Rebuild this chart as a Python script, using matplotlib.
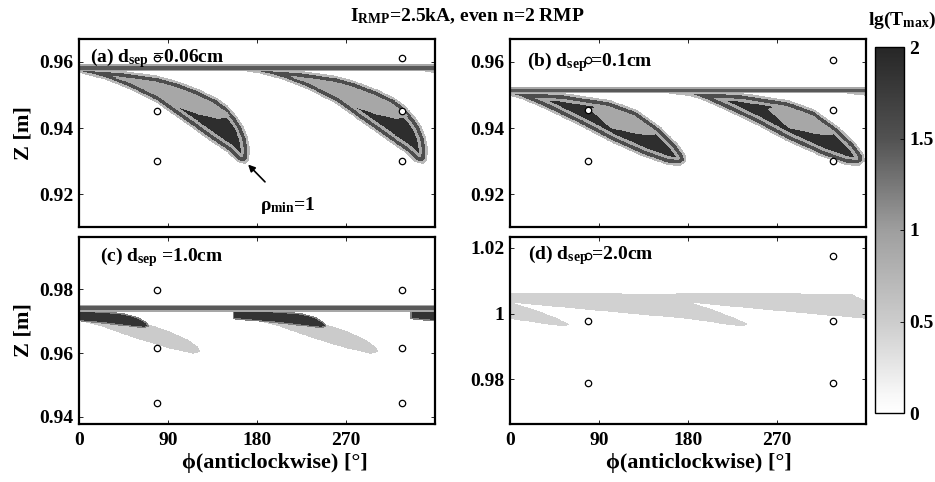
import numpy as np
import matplotlib
matplotlib.use("Agg")
import matplotlib.pyplot as plt
from matplotlib.path import Path
from matplotlib.colors import LinearSegmentedColormap

plt.rcParams['font.family'] = ['Liberation Serif', 'DejaVu Serif']
plt.rcParams['font.weight'] = 'bold'
plt.rcParams['mathtext.fontset'] = 'custom'
plt.rcParams['mathtext.rm'] = 'Liberation Serif:bold'
plt.rcParams['mathtext.it'] = 'Liberation Serif:bold'
plt.rcParams['mathtext.bf'] = 'Liberation Serif:bold'

# ---------------- data ----------------
# lg(Tmax) inside a footprint lobe, by depth from the lobe edge [px]
lobe_depth = [0, 2.5, 6, 9]
lobe_lgT = [0.7, 1.55, 0.9, 1.9]
eye_lgT = 0.9
band_depth = [0, 1.5]
band_lgT = [0.9, 1.45]
lobe_shift = [0, 180, 360]          # n=2 -> lobes repeat every 180 deg

# (a) dsep = 0.06 cm
a_lobe_phi = [-20, 0, 40, 79, 100, 122, 140, 150, 160, 166, 171, 173, 172,
              168, 160, 150, 135, 122, 100, 79, 50, 25, 0, -20]
a_lobe_z = [0.9583, 0.9581, 0.9574, 0.9558, 0.9541, 0.9516, 0.9490, 0.9468, 0.9434, 0.9408, 0.9372, 0.9335, 0.9303,
            0.9291, 0.9297, 0.9326, 0.9356, 0.9384, 0.9430, 0.9475, 0.9518, 0.9547, 0.9566, 0.9575]
a_eye_phi = [35, 50, 79, 100, 122, 140, 150, 153, 148, 140, 122, 100, 79, 50]
a_eye_z = [0.9551, 0.9552, 0.9536, 0.9519, 0.9493, 0.9467, 0.9447, 0.9437,
           0.9430, 0.9428, 0.9440, 0.9462, 0.9498, 0.9538]
a_band_z = [0.9571, 0.9592]

# (b) dsep = 0.1 cm
b_lobe_phi = [-20, 0, 51, 101, 128, 152, 169, 177, 178,
              172, 159, 134, 101, 68, 33, 10, 0, -20]
b_lobe_z = [0.9512, 0.9512, 0.9507, 0.9484, 0.9455, 0.9403, 0.9354, 0.9320, 0.9299,
            0.9286, 0.9288, 0.9314, 0.9358, 0.9410, 0.9460, 0.9489, 0.9497, 0.9503]
b_eye_phi = [80, 90, 101, 128, 145, 149, 145, 128, 101, 90]
b_eye_z = [0.9458, 0.9468, 0.9462, 0.9432, 0.9397, 0.9386, 0.9378, 0.9382, 0.9400, 0.9430]
b_band_z = [0.9505, 0.9523]

# (c) dsep = 1.0 cm
c_dark_phi = [-25, 20, 45, 60, 68, 71, 66, 55, 30, 0, -25]
c_dark_z = [0.9735, 0.9731, 0.9725, 0.9712, 0.9697, 0.9684, 0.9677, 0.9681, 0.9690, 0.9699, 0.9706]
c_dark_depth = [0, 1.5]
c_dark_lgT = [1.2, 1.85]
c_light_phi = [0, 40, 70, 90, 110, 121, 123, 115, 89, 55, 20, 0]
c_light_z = [0.9722, 0.9712, 0.9690, 0.9670, 0.9642, 0.9617, 0.9603, 0.9598, 0.9616, 0.9648, 0.9686, 0.9700]
c_light_lgT = 0.5
c_band_z = [0.9729, 0.9752]

# (d) dsep = 2.0 cm
d_tongue_phi = [-20, 90, 165, 183, 205, 228, 240, 236, 220, 180, 120, 60, 3, -20]
d_tongue_z = [1.0061, 1.0062, 1.0059, 1.0033, 1.0012, 0.9985, 0.9968,
              0.9962, 0.9966, 0.9984, 1.0000, 1.0017, 1.0033, 1.0052]
d_tongue_lgT = 0.45
d_shift = [-180, 0, 180]

# probe positions
probe_phi = [79, 79, 79, 327, 327, 327]
a_probe_z = [0.9612, 0.9450, 0.9300]
b_probe_z = [0.9606, 0.9455, 0.9300]
c_probe_z = [0.9797, 0.9616, 0.9444]
d_probe_z = [1.0176, 0.9976, 0.9788]

ylims = {'a': (0.9102, 0.9668), 'b': (0.9102, 0.9668),
         'c': (0.9378, 0.9963), 'd': (0.9664, 1.0233)}
yticks = {'a': [0.92, 0.94, 0.96], 'b': [0.92, 0.94, 0.96],
          'c': [0.94, 0.96, 0.98], 'd': [0.98, 1.0, 1.02]}
ytlabels = {'a': ['0.92', '0.94', '0.96'], 'b': ['0.92', '0.94', '0.96'],
            'c': ['0.94', '0.96', '0.98'], 'd': ['0.98', '1', '1.02']}
labels = {'a': r'(a) d$_{\rm sep}\;$=0.06cm', 'b': r'(b) d$_{\rm sep}\;$=0.1cm',
          'c': r'(c) d$_{\rm sep}\;$=1.0cm', 'd': r'(d) d$_{\rm sep}\;$=2.0cm'}

cmap = LinearSegmentedColormap.from_list(
    'lgT', [(0.0, (1, 1, 1)), (0.05, (0.97, 0.97, 0.97)), (0.25, (0.80, 0.80, 0.80)),
            (0.5, (0.62, 0.62, 0.62)), (0.75, (0.32, 0.32, 0.32)), (1.0, (0.15, 0.15, 0.15))])

FS = 14


def paint(field, PHI, ZZ, sx, sz, phi_pts, z_pts, shifts, depth, vals):
    """fill a polygon footprint in the grid, value set by depth from its edge"""
    pts = np.column_stack([PHI.ravel(), ZZ.ravel()])
    for s in shifts:
        poly = np.column_stack([np.asarray(phi_pts) + s, z_pts])
        inside = Path(poly).contains_points(pts).reshape(PHI.shape)
        if not inside.any():
            continue
        px = PHI[inside] * sx
        pz = ZZ[inside] * sz
        d = np.full(px.shape, 1e9)
        vx = poly[:, 0] * sx
        vz = poly[:, 1] * sz
        n = len(poly)
        for i in range(n):
            x1, z1 = vx[i], vz[i]
            x2, z2 = vx[(i + 1) % n], vz[(i + 1) % n]
            ex, ez = x2 - x1, z2 - z1
            L = ex * ex + ez * ez
            t = np.clip(((px - x1) * ex + (pz - z1) * ez) / max(L, 1e-12), 0, 1)
            d = np.minimum(d, np.hypot(px - x1 - t * ex, pz - z1 - t * ez))
        sub = field[inside]
        for dd, v in zip(depth, vals):
            sub[d >= dd] = v
        field[inside] = sub


fig = plt.figure(figsize=(9.35, 4.82), dpi=100)
W, H = 935, 482
boxes = {'a': (79, 39, 356, 188), 'b': (510, 39, 356, 188),
         'c': (79, 237, 356, 187), 'd': (510, 237, 356, 187)}

im = None
for key in 'abcd':
    x, y, w, h = boxes[key]
    ax = fig.add_axes([x / W, 1 - (y + h) / H, w / W, h / H])
    z0, z1 = ylims[key]
    phi = np.arange(0, 360.01, 0.5)
    zz = np.linspace(z0, z1, 600)
    PHI, ZZ = np.meshgrid(phi, zz)
    sx = w / 360.0
    sz = h / (z1 - z0)
    field = np.zeros(PHI.shape)

    if key in 'ab':
        lp, lz = (a_lobe_phi, a_lobe_z) if key == 'a' else (b_lobe_phi, b_lobe_z)
        ep, ez = (a_eye_phi, a_eye_z) if key == 'a' else (b_eye_phi, b_eye_z)
        bz = a_band_z if key == 'a' else b_band_z
        paint(field, PHI, ZZ, sx, sz, lp, lz, lobe_shift, lobe_depth, lobe_lgT)
        paint(field, PHI, ZZ, sx, sz, ep, ez, lobe_shift, [0], [eye_lgT])
        paint(field, PHI, ZZ, sx, sz, [-5, 365, 365, -5], [bz[0], bz[0], bz[1], bz[1]],
              [0], band_depth, band_lgT)
        pz = a_probe_z if key == 'a' else b_probe_z
    elif key == 'c':
        paint(field, PHI, ZZ, sx, sz, c_light_phi, c_light_z, lobe_shift, [0], [c_light_lgT])
        paint(field, PHI, ZZ, sx, sz, c_dark_phi, c_dark_z, lobe_shift, c_dark_depth, c_dark_lgT)
        paint(field, PHI, ZZ, sx, sz, [-5, 365, 365, -5],
              [c_band_z[0], c_band_z[0], c_band_z[1], c_band_z[1]], [0], band_depth, band_lgT)
        pz = c_probe_z
    else:
        paint(field, PHI, ZZ, sx, sz, d_tongue_phi, d_tongue_z, d_shift, [0], [d_tongue_lgT])
        pz = d_probe_z

    im = ax.imshow(field, extent=[0, 360, z0, z1], origin='lower', aspect='auto',
                   cmap=cmap, vmin=0, vmax=2, interpolation='nearest')
    ax.plot(probe_phi, pz + pz, 'o', ms=4.6, mfc='white', mec='k', mew=0.9, ls='none')

    ax.set_xlim(0, 360)
    ax.set_ylim(z0, z1)
    ax.set_xticks([0, 90, 180, 270])
    ax.set_yticks(yticks[key])
    ax.set_yticklabels(ytlabels[key])
    ax.tick_params(direction='in', length=3, width=0.6, labelsize=FS, top=True, right=True)
    ax.tick_params(axis='x', pad=6)
    ax.tick_params(axis='y', pad=4)
    for sp in ax.spines.values():
        sp.set_linewidth(1.6)
    if key in 'ab':
        ax.set_xticklabels([])
    else:
        ax.set_xlabel('ϕ(anticlockwise) [°]', fontsize=16, fontweight='bold', labelpad=2)
        ax.xaxis.set_label_coords(0.55 if key == 'c' else 0.53, -0.155)
    if key in 'ac':
        ax.set_ylabel('Z [m]', fontsize=16, fontweight='bold', labelpad=4)
    lx = {'a': 0.031, 'b': 0.048, 'c': 0.059, 'd': 0.05}[key]
    ly = {'a': 0.90, 'b': 0.88, 'c': 0.893, 'd': 0.904}[key]
    ax.text(lx, ly, labels[key], transform=ax.transAxes, fontsize=FS,
            fontweight='bold', va='center', ha='left')
    if key == 'a':
        ax.annotate('ρ$_{\\rm min}$=1', xy=(171, 0.9290), xytext=(211, 0.9168),
                    fontsize=FS, fontweight='bold', ha='center', va='center',
                    arrowprops=dict(arrowstyle='-|>', color='k', lw=1.2,
                                    shrinkA=10, shrinkB=0, mutation_scale=10))

fig.text(0.5, 0.966, r'I$_{\rm RMP}$=2.5kA, even n=2 RMP', ha='center', va='center',
         fontsize=FS, fontweight='bold')

cax = fig.add_axes([875 / W, 1 - 413 / H, 29 / W, 366 / H])
cb = fig.colorbar(im, cax=cax, ticks=[0, 0.5, 1, 1.5, 2])
cb.ax.set_yticklabels(['0', '0.5', '1', '1.5', '2'])
cb.ax.tick_params(direction='in', length=3, width=0.6, labelsize=FS, pad=4)
cb.outline.set_linewidth(1.0)
fig.text(902 / W, 0.958, r'lg(T$_{\rm max}$)', ha='center', va='center',
         fontsize=FS, fontweight='bold')

fig.savefig('out.png', dpi=100)
